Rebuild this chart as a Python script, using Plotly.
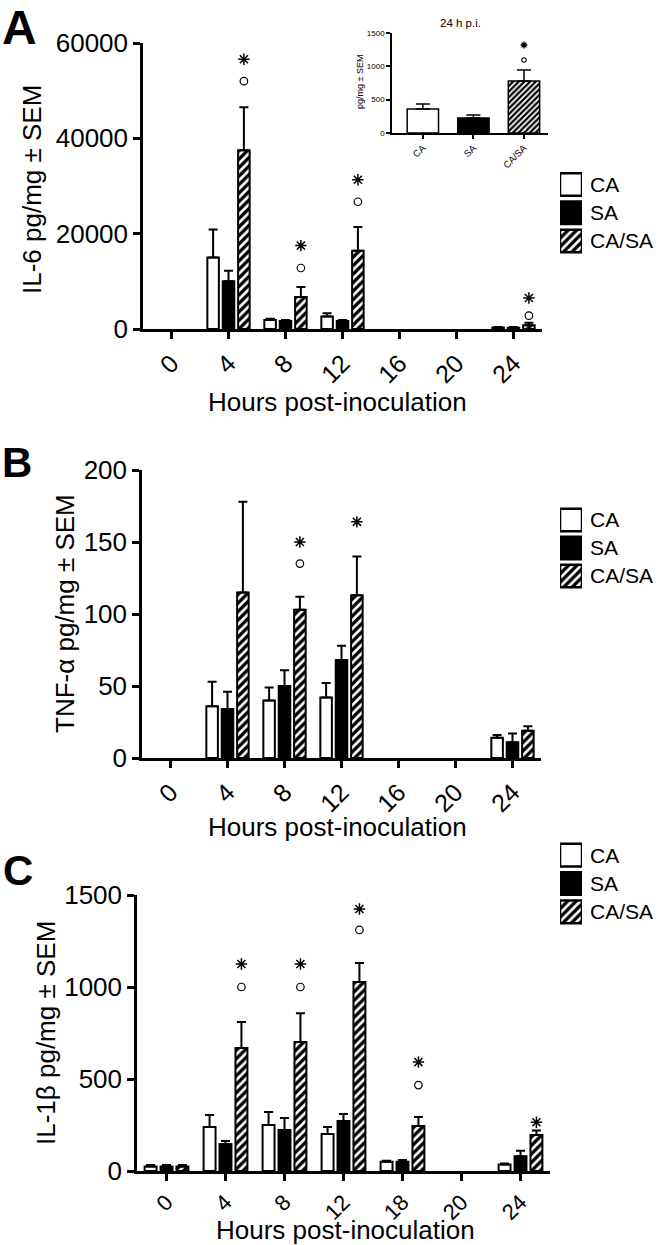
import plotly.graph_objects as go

W, H = 660, 1245
FONT = "Liberation Sans, Arial, sans-serif"

# ---------------- data ----------------
hours_ab = ["0", "4", "8", "12", "16", "20", "24"]
hours_c = ["0", "4", "8", "12", "18", "20", "24"]
groups = ["CA", "SA", "CA/SA"]

# Panel A: IL-6 (pg/mg)
il6_ca = [None, 15000, 1900, 2600, None, None, 300]
il6_ca_err = [None, 5900, 250, 700, None, None, 120]
il6_sa = [None, 10000, 1700, 1700, None, None, 250]
il6_sa_err = [None, 2200, 200, 200, None, None, 150]
il6_casa = [None, 37500, 6700, 16400, None, None, 800]
il6_casa_err = [None, 9000, 2100, 5000, None, None, 500]
il6_star = [None, 56600, 17500, 31300, None, None, 6500]
il6_circle = [None, 52000, 12800, 26700, None, None, 2800]

# Inset: IL-6 at 24 h p.i.
inset_vals = [360, 225, 780]
inset_err = [75, 45, 165]
inset_star = [None, None, 1320]
inset_circle = [None, None, 1095]

# Panel B: TNF-alpha (pg/mg)
tnf_ca = [None, 36, 40, 42, None, None, 14]
tnf_ca_err = [None, 17, 9, 10, None, None, 2]
tnf_sa = [None, 34, 50, 68, None, None, 11]
tnf_sa_err = [None, 12, 11, 10, None, None, 6]
tnf_casa = [None, 115, 103, 113, None, None, 19]
tnf_casa_err = [None, 63, 9, 27, None, None, 3]
tnf_star = [None, None, 150, 164, None, None, None]
tnf_circle = [None, None, 135, None, None, None, None]

# Panel C: IL-1beta (pg/mg)
il1_ca = [25, 239, 250, 201, 50, None, 35]
il1_ca_err = [8, 65, 70, 38, 6, None, 6]
il1_sa = [25, 147, 223, 272, 50, None, 80]
il1_sa_err = [8, 16, 65, 38, 10, None, 30]
il1_casa = [25, 668, 701, 1027, 245, None, 195]
il1_casa_err = [8, 142, 157, 103, 48, None, 25]
il1_star = [None, 1125, 1125, 1424, 592, None, 265]
il1_circle = [None, 1000, 1000, 1310, 467, None, None]

# ---------------- style ----------------
BARGAP = 0.19
BARGROUPGAP = 0.25
CASA_OFFSET = (1 - BARGAP) / 3.0   # centre of the 3rd bar in a group, in category units


def xdom(l, r):
    return [l / W, r / W]


def ydom(t, b):
    return [1 - b / H, 1 - t / H]


def hatch(size=6):
    return dict(shape="/", fgcolor="black", bgcolor="white", size=size, solidity=0.55)


fills = {"CA": "white", "SA": "black", "CA/SA": "white"}

panels = [
    dict(cats=hours_ab, vals=[il6_ca, il6_sa, il6_casa],
         errs=[il6_ca_err, il6_sa_err, il6_casa_err],
         star=il6_star, circ=il6_circle, n="", px=(143, 542), py=(43, 329),
         ymax=60000, dtick=20000, xtick_size=25,
         ytitle="IL-6 pg/mg ± SEM", ytc=(32, 190), xtc=(337, 402),
         letter="A", lc=(19, 27), letter_size=48, leg=(184.5, 241)),
    dict(cats=hours_ab, vals=[tnf_ca, tnf_sa, tnf_casa],
         errs=[tnf_ca_err, tnf_sa_err, tnf_casa_err],
         star=tnf_star, circ=tnf_circle, n="2", px=(142, 541), py=(470, 758),
         ymax=200, dtick=50, xtick_size=25,
         ytitle="TNF-α pg/mg ± SEM", ytc=(65, 614), xtc=(337, 827),
         letter="B", lc=(17, 462), letter_size=42, leg=(520, 576)),
    dict(cats=hours_c, vals=[il1_ca, il1_sa, il1_casa],
         errs=[il1_ca_err, il1_sa_err, il1_casa_err],
         star=il1_star, circ=il1_circle, n="3", px=(137, 550), py=(895, 1171),
         ymax=1500, dtick=500, xtick_size=22,
         ytitle="IL-1β pg/mg ± SEM", ytc=(46, 1033), xtc=(345, 1230),
         letter="C", lc=(18, 870), letter_size=42, leg=(855, 912)),
]

STAR = dict(symbol="asterisk-open", size=9.5, line=dict(color="black", width=1.5), color="black")
CIRC = dict(symbol="circle-open", size=7.5, line=dict(color="black", width=1.2), color="black")

fig = go.Figure()
annotations = []
layout_axes = {}


def add_symbols(star, circ, offset, xaxis, yaxis, scale=1.0):
    for vals, mk in ((star, STAR), (circ, CIRC)):
        xs = [k + offset for k, v in enumerate(vals) if v is not None]
        ys = [v for v in vals if v is not None]
        if not xs:
            continue
        m = dict(mk)
        m["size"] = mk["size"] * scale
        m["line"] = dict(color="black", width=mk["line"]["width"] * (0.6 + 0.4 * scale))
        fig.add_trace(go.Scatter(x=xs, y=ys, mode="markers", marker=m, xaxis=xaxis,
                                 yaxis=yaxis, showlegend=False, hoverinfo="skip"))


for i, p in enumerate(panels):
    xa, ya = "x" + p["n"], "y" + p["n"]
    for g, v, e in zip(groups, p["vals"], p["errs"]):
        marker = dict(color=fills[g], line=dict(color="black", width=2))
        if g == "CA/SA":
            marker["pattern"] = hatch()
        fig.add_trace(go.Bar(
            x=p["cats"], y=v, name=g, xaxis=xa, yaxis=ya, marker=marker,
            error_y=dict(type="data", symmetric=False, array=e,
                         arrayminus=[0] * len(e), color="black",
                         thickness=2, width=4.5),
            showlegend=False, hoverinfo="skip"))

    layout_axes["xaxis" + p["n"]] = dict(
        domain=xdom(*p["px"]), anchor=ya, type="category",
        categoryorder="array", categoryarray=p["cats"], range=[-0.5, 6.5],
        showline=True, linecolor="black", linewidth=2.5,
        ticks="outside", ticklen=7, tickwidth=2.5, tickcolor="black",
        tickangle=-45, tickfont=dict(size=p["xtick_size"], color="black", family=FONT),
        showgrid=False, zeroline=False, automargin=False)
    layout_axes["yaxis" + p["n"]] = dict(
        domain=ydom(*p["py"]), anchor=xa, range=[0, p["ymax"]],
        dtick=p["dtick"], tickformat="d",
        showline=True, linecolor="black", linewidth=2.5,
        ticks="outside", ticklen=7, tickwidth=2.5, tickcolor="black",
        tickfont=dict(size=26, color="black", family=FONT),
        showgrid=False, zeroline=False, automargin=False)

    # significance symbols above the CA/SA bar, on an overlaid index axis
    ox = 8 + i
    layout_axes["xaxis%d" % ox] = dict(domain=xdom(*p["px"]), overlaying=xa, anchor=ya,
                                      range=[-0.5, 6.5], visible=False, automargin=False)
    add_symbols(p["star"], p["circ"], CASA_OFFSET, "x%d" % ox, ya)

    annotations.append(dict(x=p["xtc"][0] / W, y=1 - p["xtc"][1] / H,
                            xref="paper", yref="paper", text="Hours post-inoculation",
                            showarrow=False, xanchor="center", yanchor="middle",
                            font=dict(size=26, color="black", family=FONT)))
    annotations.append(dict(x=p["ytc"][0] / W, y=1 - p["ytc"][1] / H,
                            xref="paper", yref="paper", text=p["ytitle"], textangle=-90,
                            showarrow=False, xanchor="center", yanchor="middle",
                            font=dict(size=26, color="black", family=FONT)))
    annotations.append(dict(x=p["lc"][0] / W, y=1 - p["lc"][1] / H,
                            xref="paper", yref="paper", text="<b>%s</b>" % p["letter"],
                            showarrow=False, xanchor="center", yanchor="middle",
                            font=dict(size=p["letter_size"], color="black", family=FONT)))

    # legend swatches on their own small axes (one bar per group)
    lx, ly = "x" + str(5 + i), "y" + str(5 + i)
    for g in groups:
        m = dict(color=fills[g], line=dict(color="black", width=2.5))
        if g == "CA/SA":
            m["pattern"] = hatch()
        fig.add_trace(go.Bar(
            y=[g], x=[1], orientation="h", xaxis=lx, yaxis=ly, width=0.8, offset=-0.4,
            marker=m, showlegend=False, hoverinfo="skip"))
    top, bot = p["leg"][0] - 14, p["leg"][1] + 14
    layout_axes["xaxis" + str(5 + i)] = dict(domain=xdom(560, 582), anchor=ly,
                                            range=[0, 1], visible=False, automargin=False)
    layout_axes["yaxis" + str(5 + i)] = dict(
        domain=ydom(top, bot), anchor=lx, type="category",
        categoryorder="array", categoryarray=groups, range=[2.5, -0.5],
        side="right", showline=False, ticks="", showgrid=False, zeroline=False,
        ticklabelstandoff=7, automargin=False,
        tickfont=dict(size=21, color="black", family=FONT))

# ---------------- inset ----------------
for g, v, e in zip(groups, inset_vals, inset_err):
    m = dict(color=fills[g], line=dict(color="black", width=1.5))
    if g == "CA/SA":
        m["pattern"] = hatch(4)
    fig.add_trace(go.Bar(
        x=[g], y=[v], xaxis="x4", yaxis="y4", width=0.62, offset=-0.31, marker=m,
        error_y=dict(type="data", symmetric=False, array=[e], arrayminus=[0],
                     color="black", thickness=1.5, width=7),
        showlegend=False, hoverinfo="skip"))
INSET_RANGE = [-0.61, 2.475]
layout_axes["xaxis4"] = dict(
    domain=xdom(392, 548), anchor="y4", type="category",
    categoryorder="array", categoryarray=groups, range=INSET_RANGE,
    showline=True, linecolor="black", linewidth=1.5,
    ticks="outside", ticklen=4, tickwidth=1.5, tickcolor="black", tickangle=-45,
    tickfont=dict(size=9.5, color="black", family=FONT), showgrid=False, zeroline=False,
    automargin=False)
layout_axes["yaxis4"] = dict(
    domain=ydom(33, 133), anchor="x4", range=[0, 1500], dtick=500, tickformat="d",
    showline=True, linecolor="black", linewidth=1.5,
    ticks="outside", ticklen=4, tickwidth=1.5, tickcolor="black",
    tickfont=dict(size=8, color="black", family=FONT), showgrid=False, zeroline=False,
    automargin=False)
layout_axes["xaxis11"] = dict(domain=xdom(392, 548), overlaying="x4", anchor="y4",
                              range=INSET_RANGE, visible=False, automargin=False)
add_symbols(inset_star, inset_circle, 0.0, "x11", "y4", scale=0.6)

annotations.append(dict(x=460 / W, y=1 - 23 / H, xref="paper", yref="paper",
                        text="24 h p.i.", showarrow=False, xanchor="center", yanchor="middle",
                        font=dict(size=11.5, color="black", family=FONT)))
annotations.append(dict(x=360 / W, y=1 - 82 / H, xref="paper", yref="paper",
                        text="pg/mg ± SEM", textangle=-90, showarrow=False,
                        xanchor="center", yanchor="middle",
                        font=dict(size=9, color="black", family=FONT)))

fig.update_layout(
    template="none",
    width=W, height=H, margin=dict(l=0, r=0, t=0, b=0, pad=0, autoexpand=False),
    paper_bgcolor="white", plot_bgcolor="white",
    barmode="group", bargap=BARGAP, bargroupgap=BARGROUPGAP,
    font=dict(family=FONT, color="black"),
    annotations=annotations, showlegend=False,
    **layout_axes)

fig.write_html("out.html", config={"displayModeBar": False},
               post_script="document.body.style.margin='0';")
